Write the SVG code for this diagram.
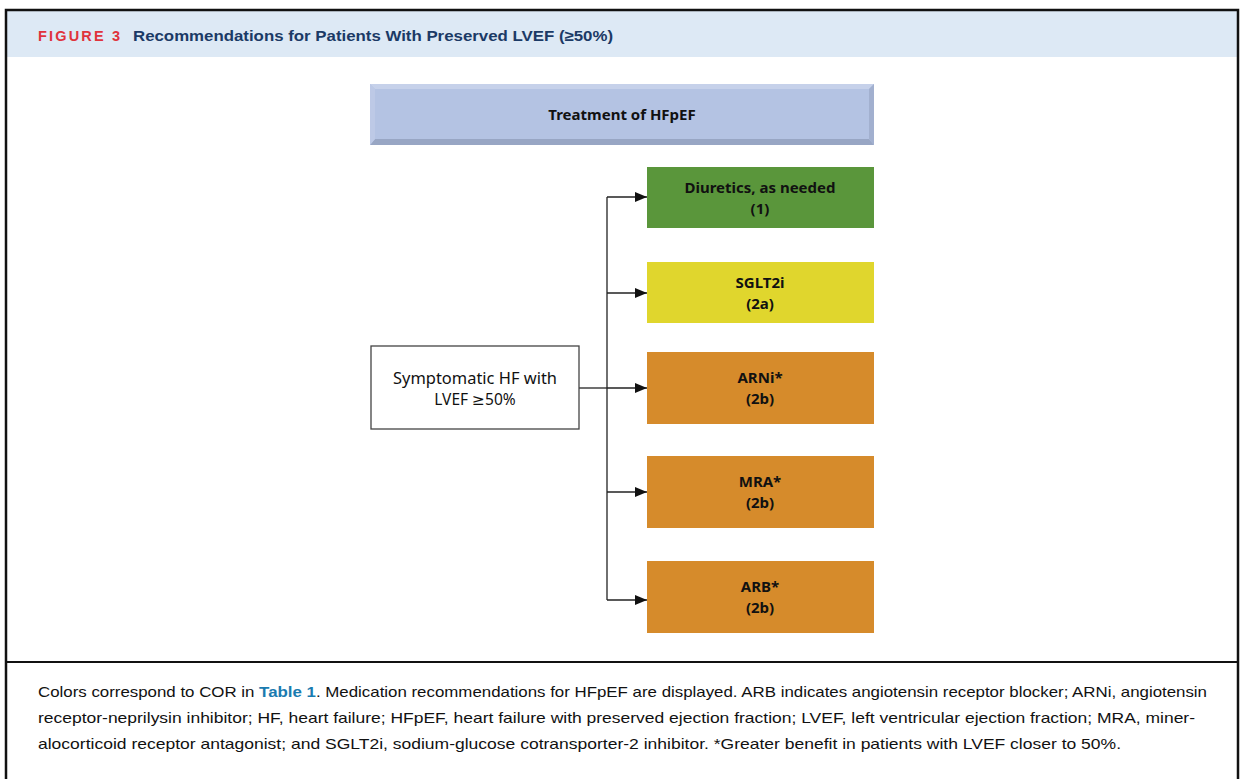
<svg xmlns="http://www.w3.org/2000/svg" width="1244" height="779" viewBox="0 0 1244 779">
<style>
.frame{fill:none;stroke:#111;stroke-width:2.5}
.lbl{font-family:"Noto Sans","DejaVu Sans",sans-serif;font-weight:bold;font-size:15px;fill:#111;text-anchor:middle}
.reg{font-family:"Noto Sans","DejaVu Sans",sans-serif;font-size:15.5px;fill:#111;text-anchor:middle}
.cap{font-family:"Liberation Sans",Arial,sans-serif;font-size:15px;fill:#111}
.conn{fill:none;stroke:#222;stroke-width:1.3}
</style>
<defs>
<marker id="ah" viewBox="0 0 12 10" refX="12" refY="5" markerWidth="12" markerHeight="10" markerUnits="userSpaceOnUse" orient="auto">
<path d="M0,0 L12,5 L0,10 Z" fill="#111"/>
</marker>
</defs>
<rect x="0" y="0" width="1244" height="779" fill="#fff"/>
<rect x="7" y="11" width="1230" height="46" fill="#dde9f5"/>
<path class="frame" d="M6,790 V10 H1238 V790"/>
<line x1="6" y1="662" x2="1238" y2="662" stroke="#111" stroke-width="2"/>
<text x="38" y="41" font-family="'Liberation Sans',Arial,sans-serif" font-weight="bold" font-size="14.5" fill="#e0333c" textLength="82" lengthAdjust="spacing">FIGURE 3</text>
<text x="133" y="41" font-family="'Liberation Sans',Arial,sans-serif" font-weight="bold" font-size="15" fill="#1b3a66" textLength="480" lengthAdjust="spacingAndGlyphs">Recommendations for Patients With Preserved LVEF (≥50%)</text>

<g id="header">
<rect x="370" y="84" width="504" height="61" fill="#b4c3e3"/>
<path d="M370,84 H874 L869,89 H375 Z" fill="#c6d1ea"/>
<path d="M370,145 H874 L869,139 H375 Z" fill="#98a6c4"/>
<path d="M874,84 V145 L869,139 V89 Z" fill="#a2b0cf"/>
<path d="M370,84 V145 L375,139 V89 Z" fill="#bdc9e6"/>
<text class="lbl" x="622" y="120">Treatment of HFpEF</text>
</g>

<g id="connectors">
<line class="conn" x1="579" y1="388" x2="607" y2="388"/>
<line class="conn" x1="607" y1="197" x2="607" y2="600"/>
<line class="conn" x1="607" y1="197" x2="647" y2="197" marker-end="url(#ah)"/>
<line class="conn" x1="607" y1="293" x2="647" y2="293" marker-end="url(#ah)"/>
<line class="conn" x1="607" y1="388" x2="647" y2="388" marker-end="url(#ah)"/>
<line class="conn" x1="607" y1="492" x2="647" y2="492" marker-end="url(#ah)"/>
<line class="conn" x1="607" y1="600" x2="647" y2="600" marker-end="url(#ah)"/>
</g>

<g id="symptomatic">
<rect x="371" y="346" width="208" height="83" fill="#fff" stroke="#444" stroke-width="1.3"/>
<text class="reg" x="475" y="384" textLength="164" lengthAdjust="spacingAndGlyphs">Symptomatic HF with</text>
<text class="reg" x="475" y="405">LVEF ≥50%</text>
</g>

<g id="diuretics">
<rect x="647" y="167" width="227" height="61" fill="#5a963b"/>
<text class="lbl" x="760" y="193">Diuretics, as needed</text>
<text class="lbl" x="760" y="214">(1)</text>
</g>

<g id="sglt2i">
<rect x="647" y="262" width="227" height="61" fill="#e0d62d"/>
<text class="lbl" x="760" y="288">SGLT2i</text>
<text class="lbl" x="760" y="309">(2a)</text>
</g>

<g id="arni">
<rect x="647" y="352" width="227" height="72" fill="#d68b2b"/>
<text class="lbl" x="760" y="383">ARNi*</text>
<text class="lbl" x="760" y="404">(2b)</text>
</g>

<g id="mra">
<rect x="647" y="456" width="227" height="72" fill="#d68b2b"/>
<text class="lbl" x="760" y="487">MRA*</text>
<text class="lbl" x="760" y="508">(2b)</text>
</g>

<g id="arb">
<rect x="647" y="561" width="227" height="72" fill="#d68b2b"/>
<text class="lbl" x="760" y="592">ARB*</text>
<text class="lbl" x="760" y="613">(2b)</text>
</g>

<text class="cap" x="38" y="697" textLength="1169" lengthAdjust="spacingAndGlyphs">Colors correspond to COR in <tspan font-weight="bold" fill="#1a7bb0">Table 1</tspan>. Medication recommendations for HFpEF are displayed. ARB indicates angiotensin receptor blocker; ARNi, angiotensin</text>
<text class="cap" x="38" y="723" textLength="1157" lengthAdjust="spacingAndGlyphs">receptor-neprilysin inhibitor; HF, heart failure; HFpEF, heart failure with preserved ejection fraction; LVEF, left ventricular ejection fraction; MRA, miner-</text>
<text class="cap" x="38" y="749" textLength="1083" lengthAdjust="spacingAndGlyphs">alocorticoid receptor antagonist; and SGLT2i, sodium-glucose cotransporter-2 inhibitor. *Greater benefit in patients with LVEF closer to 50%.</text>
</svg>
